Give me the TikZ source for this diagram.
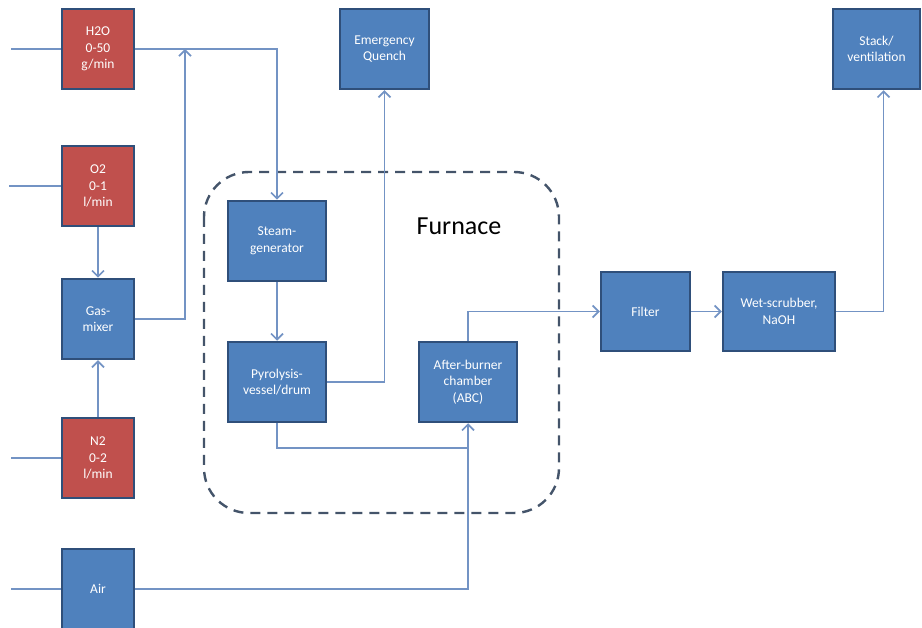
\documentclass[tikz,border=0pt]{standalone}
\usepackage{fontspec}
\setmainfont{Carlito}
\usetikzlibrary{arrows.meta,calc}
\definecolor{boxblue}{HTML}{4F81BD}
\definecolor{boxred}{HTML}{C0504D}
\definecolor{boxedge}{HTML}{2F4F7A}
\definecolor{flowline}{HTML}{7393C4}
\definecolor{furnaceline}{HTML}{44546A}
\tikzset{
  unit/.style={draw=boxedge,line width=2.5pt,fill=boxblue,text=white,align=center,
    inner sep=2pt,font=\fontsize{13.5}{16.5}\selectfont},
  feed/.style={unit,fill=boxred},
  flow/.style={draw=flowline,line width=1.6pt},
  tip/.style={-{Straight Barb[length=6pt,width=12pt,line width=1.6pt]}}
}
\begin{document}
\begin{tikzpicture}[x=1pt,y=-1pt]
  \useasboundingbox (0,0) rectangle (922,628);
  % furnace
  \draw[furnaceline,line width=2.4pt,dash pattern=on 10pt off 7pt,rounded corners=45pt]
    (204,172) rectangle (559,513);
  \node[font=\fontsize{26}{30}\selectfont] (furnace) at (459,226) {Furnace};
  % feeds
  \node[feed,minimum width=72pt,minimum height=80pt] (h2o) at (98,49) {H2O\\0-50\\g/min};
  \node[feed,minimum width=72pt,minimum height=80pt] (o2) at (98,186) {O2\\0-1\\l/min};
  \node[unit,minimum width=72pt,minimum height=80pt] (gasmix) at (98,319) {Gas-\\mixer};
  \node[feed,minimum width=72pt,minimum height=80pt] (n2) at (98,458) {N2\\0-2\\l/min};
  \node[unit,minimum width=72pt,minimum height=80pt] (air) at (98,589) {Air};
  % units
  \node[unit,minimum width=89pt,minimum height=80pt] (quench) at (384.5,49) {Emergency\\Quench};
  \node[unit,minimum width=87pt,minimum height=80pt] (stack) at (876.5,49) {Stack/\\ventilation};
  \node[unit,minimum width=98pt,minimum height=80pt] (steam) at (277,241) {Steam-\\generator};
  \node[unit,minimum width=98pt,minimum height=80pt] (pyro) at (277,382) {Pyrolysis-\\vessel/drum};
  \node[unit,minimum width=98pt,minimum height=80pt] (abc) at (468,382) {After-burner\\chamber\\(ABC)};
  \node[unit,minimum width=89pt,minimum height=79pt] (filter) at (645.5,311.5) {Filter};
  \node[unit,minimum width=112pt,minimum height=79pt] (scrub) at (779,311.5) {Wet-scrubber,\\NaOH};
  % free ends
  \coordinate (inh2o) at (11,49);
  \coordinate (ino2) at (9,186);
  \coordinate (inn2) at (11,458);
  \coordinate (inair) at (11,589);
  \coordinate (joinh2o) at (185,49);
  \coordinate (joinair) at (468,448);
  % lines
  \draw[flow] (inh2o) -- (h2o.west);
  \draw[flow] (ino2) -- (o2.west);
  \draw[flow] (inn2) -- (n2.west);
  \draw[flow] (inair) -- (air.west);
  \draw[flow,tip] (h2o.east) -| (steam.north);
  \draw[flow,tip] (gasmix.east) -| (joinh2o);
  \draw[flow,tip] (o2.south) -- (gasmix.north);
  \draw[flow,tip] (n2.north) -- (gasmix.south);
  \draw[flow,tip] (air.east) -| (abc.south);
  \draw[flow,tip] (steam.south) -- (pyro.north);
  \draw[flow,tip] (pyro.east) -| (quench.south);
  \draw[flow] (pyro.south) |- (joinair);
  \draw[flow,tip] (abc.north) |- (filter.west);
  \draw[flow,tip] (filter.east) -- (scrub.west);
  \draw[flow,tip] (scrub.east) -| ($(stack.south)+(7,0)$);
\end{tikzpicture}
\end{document}
